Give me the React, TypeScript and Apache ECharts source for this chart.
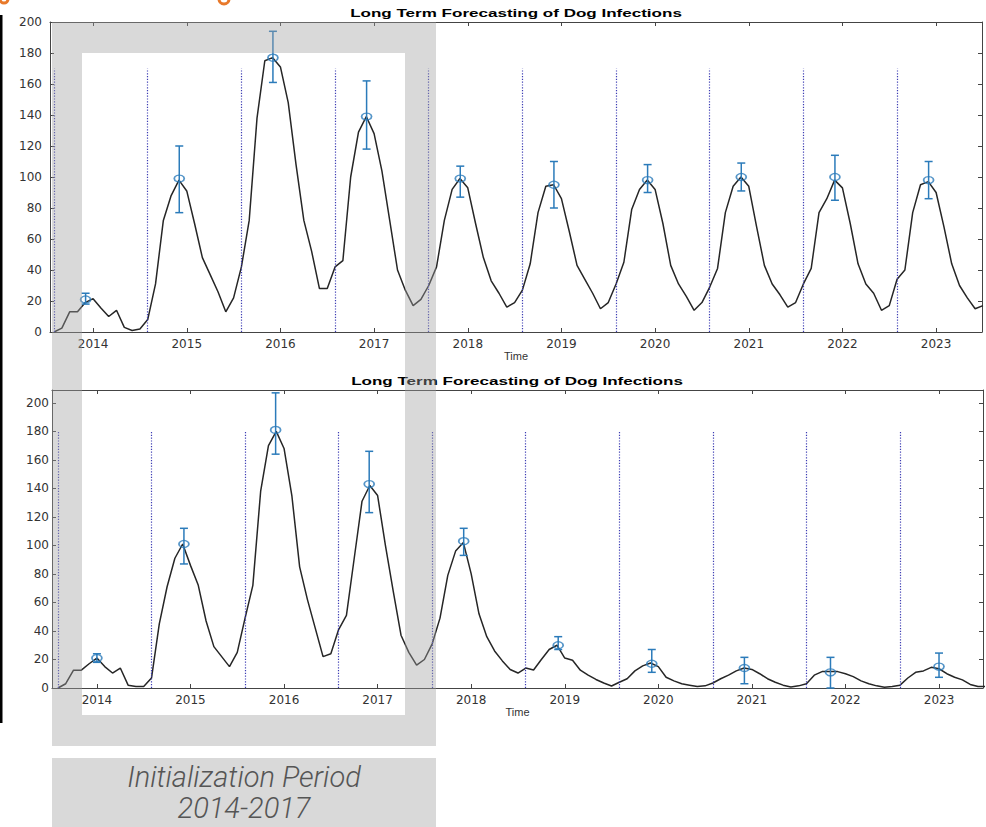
import React, { useEffect, useRef } from "react";
import * as echarts from "echarts";

// ---------- data ----------
const yearTicks = [2014, 2015, 2016, 2017, 2018, 2019, 2020, 2021, 2022, 2023];
const yTicks = [0, 20, 40, 60, 80, 100, 120, 140, 160, 180, 200];
const seasonBreaks = [2013.583, 2014.583, 2015.583, 2016.583, 2017.583, 2018.583, 2019.583, 2020.583, 2021.583, 2022.583];
const firstMonth = 2013 + 7 / 12; // monthly series starts Aug 2013

const topMonthly = [
  0, 2.5, 13, 13, 19,
  21.5, 15.5, 10, 14, 3, 1, 2, 8, 31, 72, 88, 98,
  91, 70, 48, 37, 26, 13, 22, 42, 72, 138, 175, 177,
  171, 148, 108, 72, 52, 28, 28, 42, 46, 100, 129, 139,
  128, 104, 72, 40, 27, 17, 21, 30, 42, 72, 92, 99,
  93, 70, 48, 33, 25, 16, 19, 27, 44, 77, 94, 95,
  86, 65, 43, 34, 25, 15, 19, 31, 45, 79, 92, 98,
  92, 70, 43, 31, 23, 14, 19, 29, 41, 77, 94, 100,
  94, 68, 43, 31, 24, 16, 19, 31, 41, 77, 86, 98,
  93, 70, 44, 31, 25, 14, 17, 34, 40, 77, 95, 97,
  90, 68, 44, 30, 22, 15, 17,
];

const bottomMonthly = [
  0, 3, 12.5, 12.5, 17,
  21, 15, 10.5, 14, 2, 1, 1, 7, 45, 71, 91, 101,
  86, 72, 47, 29, 22, 15, 25, 49, 72, 138, 170, 180,
  168, 135, 85, 62, 42, 22, 24, 41, 51, 91, 131, 142,
  135, 100, 68, 37, 25, 16, 20, 31, 49, 79, 96, 102,
  80, 52, 36, 26, 19, 13, 10.5, 14, 12.6, 20, 27, 30,
  21, 19.5, 12.5, 9, 6, 3.5, 1.4, 4, 6.5, 12, 15.5, 17.5,
  15, 7.5, 5, 3, 2, 1, 1.5, 3.5, 6.5, 9, 12, 14,
  13, 10, 6.5, 4, 2, 0.7, 1.5, 3, 9, 11.5, 11.5, 11.5,
  10, 8, 5, 3, 1.5, 0.5, 1, 2, 7, 11, 12, 14.5,
  13.5, 10, 7.5, 5.7, 2.5, 1, 1,
];

const topObsTime = [2013.92, 2014.92, 2015.92, 2016.92, 2017.92, 2018.92, 2019.92, 2020.92, 2021.92, 2022.92];
const topObsValue = [21, 99, 177, 139, 99, 95, 98, 100, 100, 98];
const topObsLow = [18, 77, 161, 118, 87, 80, 90, 91, 85, 86];
const topObsHigh = [25, 120, 194, 162, 107, 110, 108, 109, 114, 110];

const bottomObsTime = [2014.0, 2014.93, 2015.91, 2016.91, 2017.92, 2018.93, 2019.93, 2020.92, 2021.84, 2023.0];
const bottomObsValue = [21, 101, 181, 143, 103, 30, 17, 14, 11, 15];
const bottomObsLow = [18, 87, 164, 123, 93, 27, 11, 3, 0, 7.5];
const bottomObsHigh = [24, 112, 207, 166, 112, 36, 27, 21.5, 21.5, 24.5];

const titleText = "Long Term Forecasting of Dog Infections";

// ---------- styles ----------
const axisColor = "#444";
const labelFont = "DejaVu Sans";
const errColor = "#2b7bba";
const curveColor = "#262626";

function xAxes(grid: number, min: number, max: number, nameGap: number) {
  const common = {
    gridIndex: grid,
    type: "value",
    min,
    max,
    splitLine: { show: false },
    axisLine: { show: true, onZero: false, lineStyle: { color: axisColor, width: 1 } },
    axisTick: { show: true, inside: true, length: 4, customValues: yearTicks, lineStyle: { color: axisColor } },
  };
  return [
    {
      ...common,
      position: "bottom",
      axisLabel: {
        customValues: yearTicks,
        formatter: (v: number) => String(v),
        fontFamily: labelFont,
        fontSize: 12,
        color: "#333",
        margin: 6,
      },
      name: "Time",
      nameLocation: "middle",
      nameGap,
      nameTextStyle: { fontFamily: "Liberation Sans", fontSize: 11, color: "#333" },
    },
    { ...common, position: "top", axisLabel: { show: false } },
  ];
}

function yAxes(grid: number, max: number, margin: number) {
  const common = {
    gridIndex: grid,
    type: "value",
    min: 0,
    max,
    splitLine: { show: false },
    axisLine: { show: true, onZero: false, lineStyle: { color: axisColor, width: 1 } },
    axisTick: { show: true, inside: true, length: 4, customValues: yTicks, lineStyle: { color: axisColor } },
  };
  return [
    {
      ...common,
      position: "left",
      axisLabel: {
        customValues: yTicks,
        formatter: (v: number) => String(v),
        fontFamily: labelFont,
        fontSize: 12,
        color: "#333",
        margin,
      },
    },
    { ...common, position: "right", axisLabel: { show: false } },
  ];
}

function panelSeries(axisIdx: number, monthly: number[], breakTop: number,
  t: number[], v: number[], lo: number[], hi: number[]) {
  return [
    {
      type: "line",
      xAxisIndex: axisIdx,
      yAxisIndex: axisIdx,
      data: monthly.map((val, i) => [firstMonth + i / 12, val]),
      showSymbol: false,
      lineStyle: { color: curveColor, width: 1.5 },
      z: 3,
      markLine: {
        silent: true,
        symbol: ["none", "none"],
        label: { show: false },
        lineStyle: { type: [1.2, 1.6], color: "#3c3cb4", width: 1.2 },
        data: seasonBreaks.map((b) => [{ coord: [b, 0] }, { coord: [b, breakTop] }]),
      },
    },
    {
      type: "custom",
      xAxisIndex: axisIdx,
      yAxisIndex: axisIdx,
      data: t.map((x, i) => [x, lo[i], hi[i]]),
      encode: { x: 0, y: [1, 2] },
      z: 4,
      renderItem: (params: any, api: any) => {
        const x = api.value(0);
        const pLo = api.coord([x, api.value(1)]);
        const pHi = api.coord([x, api.value(2)]);
        const w = 4;
        const st = { stroke: errColor, lineWidth: 1.5 };
        return {
          type: "group",
          children: [
            { type: "line", shape: { x1: pLo[0], y1: pLo[1], x2: pHi[0], y2: pHi[1] }, style: st },
            { type: "line", shape: { x1: pLo[0] - w, y1: pLo[1], x2: pLo[0] + w, y2: pLo[1] }, style: st },
            { type: "line", shape: { x1: pHi[0] - w, y1: pHi[1], x2: pHi[0] + w, y2: pHi[1] }, style: st },
          ],
        };
      },
    },
    {
      type: "scatter",
      xAxisIndex: axisIdx,
      yAxisIndex: axisIdx,
      data: t.map((x, i) => [x, v[i]]),
      symbol: "circle",
      symbolSize: [10, 7],
      itemStyle: { color: "rgba(0,0,0,0)", borderColor: errColor, borderWidth: 1.5 },
      z: 5,
    },
  ];
}

const overlay = "rgba(160,160,160,0.4)";

export default function App() {
  const ref = useRef<HTMLDivElement>(null);
  useEffect(() => {
    const chart = echarts.init(ref.current!, null, { renderer: "svg" });
    const option: any = {
      animation: false,
      backgroundColor: "#fff",
      grid: [
        { left: 50, top: 22, width: 932, height: 310 },
        { left: 52, top: 390, width: 931, height: 298 },
      ],
      xAxis: [...xAxes(0, 2013.54, 2023.49, 17), ...xAxes(1, 2013.52, 2023.47, 16)],
      yAxis: [...yAxes(0, 200, 8), ...yAxes(1, 209, 3)],
      series: [
        ...panelSeries(0, topMonthly, 170, topObsTime, topObsValue, topObsLow, topObsHigh),
        ...panelSeries(2, bottomMonthly, 180, bottomObsTime, bottomObsValue, bottomObsLow, bottomObsHigh),
      ],
      graphic: [
        // titles
        {
          type: "text", x: 516, y: 13, scaleX: 1.55, z: 50,
          style: { text: titleText, fontFamily: "Liberation Sans", fontWeight: "bold", fontSize: 11, fill: "#000",
            align: "center", verticalAlign: "middle", textAlign: "center", textVerticalAlign: "middle" },
        },
        {
          type: "text", x: 517, y: 381, scaleX: 1.55, z: 50,
          style: { text: titleText, fontFamily: "Liberation Sans", fontWeight: "bold", fontSize: 11, fill: "#000",
            align: "center", verticalAlign: "middle", textAlign: "center", textVerticalAlign: "middle" },
        },
        // initialization highlight frame (semi-transparent overlay)
        { type: "rect", z: 100, shape: { x: 52, y: 22, width: 384, height: 31 }, style: { fill: overlay } },
        { type: "rect", z: 100, shape: { x: 52, y: 715, width: 384, height: 31 }, style: { fill: overlay } },
        { type: "rect", z: 100, shape: { x: 52, y: 53, width: 30, height: 662 }, style: { fill: overlay } },
        { type: "rect", z: 100, shape: { x: 405, y: 53, width: 31, height: 662 }, style: { fill: overlay } },
        // caption box
        { type: "rect", z: 100, shape: { x: 52, y: 758, width: 384, height: 69 }, style: { fill: "#d9d9d9" } },
        {
          type: "text", x: 244, y: 777, z: 101,
          style: { text: "Initialization Period", fontFamily: "Roboto", fontStyle: "italic", fontWeight: 300, fontSize: 29,
            fill: "#555", align: "center", verticalAlign: "middle", textAlign: "center", textVerticalAlign: "middle" },
        },
        {
          type: "text", x: 244, y: 808, z: 101,
          style: { text: "2014-2017", fontFamily: "Roboto", fontStyle: "italic", fontWeight: 300, fontSize: 29,
            fill: "#555", align: "center", verticalAlign: "middle", textAlign: "center", textVerticalAlign: "middle" },
        },
        // black edge bar on the left
        { type: "rect", z: 100, shape: { x: 0, y: 15, width: 2.5, height: 708 }, style: { fill: "#000" } },
        // orange fragments at the top edge
        { type: "arc", z: 100, shape: { cx: 4, cy: -1, r: 4, startAngle: 0, endAngle: Math.PI }, style: { stroke: "#e8792a", lineWidth: 3, fill: "none" } },
        { type: "arc", z: 100, shape: { cx: 224, cy: -1, r: 5, startAngle: 0, endAngle: Math.PI }, style: { stroke: "#e8792a", lineWidth: 3, fill: "none" } },
      ],
    };
    chart.setOption(option);
    return () => chart.dispose();
  }, []);
  return (
    <div
      ref={ref}
      style={{ position: "absolute", left: 0, top: 0, width: 986, height: 827, background: "#fff" }}
    />
  );
}
